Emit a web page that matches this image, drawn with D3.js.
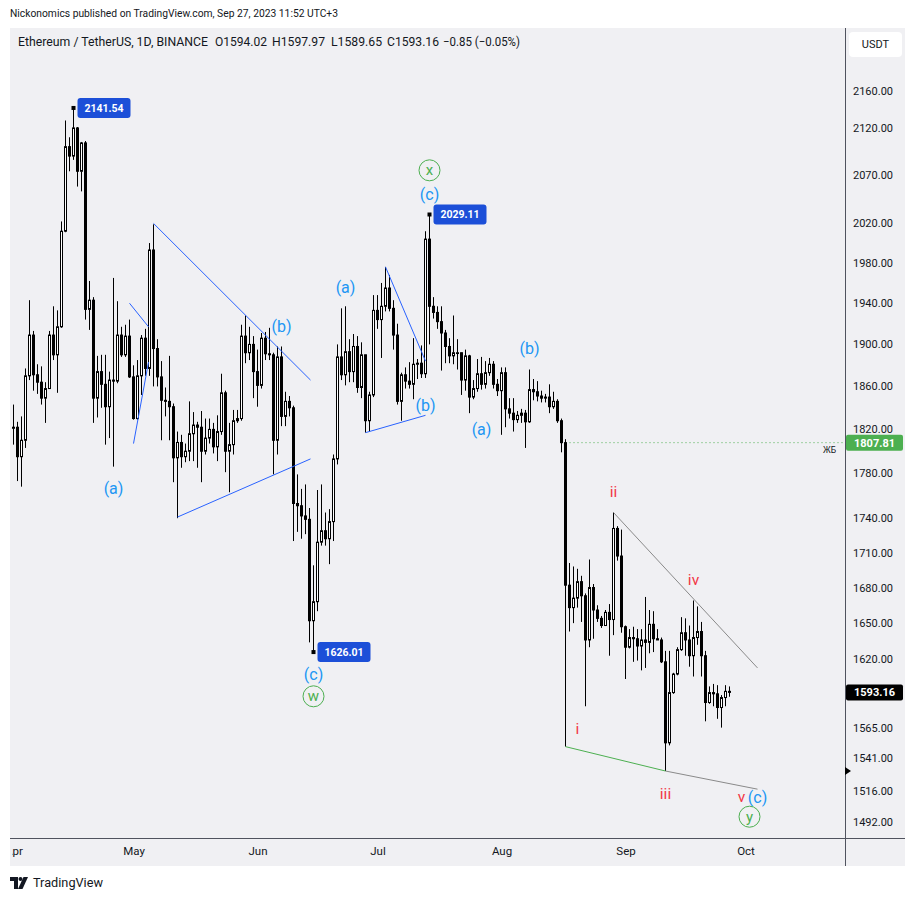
<!DOCTYPE html>
<html><head><meta charset="utf-8">
<script src="https://cdn.jsdelivr.net/npm/d3@7"></script>
<style>
body{margin:0;background:#fff;}
svg{display:block;font-family:Roboto,"Noto Sans",sans-serif;}
</style></head><body>
<svg id="c" width="916" height="900"></svg>
<script>
// ---------------- DATA ----------------
const startDate = "2023-04-01"; // first daily candle, one candle per day
const open = [1821,1822,1795,1810,1870,1909,1871,1864,1849,1858,
1909,1890,1917,2012,2100,2090,2120,2074,2104,1934,
1943,1849,1874,1862,1841,1866,1865,1909,1890,1908,
1869,1830,1870,1906,1877,1993,1896,1869,1847,1846,
1841,1794,1808,1795,1800,1816,1824,1822,1800,1812,
1820,1804,1818,1854,1800,1806,1828,1830,1908,1892,
1900,1874,1861,1906,1891,1890,1810,1888,1832,1846,
1840,1753,1751,1742,1739,1652,1668,1719,1729,1722,
1737,1793,1888,1871,1893,1874,1898,1859,1890,1828,
1852,1933,1924,1937,1955,1935,1909,1846,1871,1865,
1862,1881,1882,1872,2004,1937,1931,1922,1911,1898,
1889,1892,1892,1866,1889,1850,1858,1872,1862,1873,
1881,1862,1856,1873,1839,1835,1829,1833,1835,1827,
1857,1855,1851,1849,1850,1841,1846,1828,1807.81,1682,
1663,1671,1685,1673,1636,1680,1661,1654,1648,1659,
1653,1731,1707,1647,1630,1638,1637,1631,1636,1634,
1649,1637,1636,1618,1553,1593,1608,1628,1642,1636,
1623,1638,1643,1623,1585,1593,1592,1581,1589,1594.02];
const high = [1843,1827,1832,1877,1943,1913,1881,1879,1864,1913,
1937,1933,2022,2128,2110,2141.54,2121,2105,2106,1962,
1946,1889,1890,1890,1874,1965,1942,1917,1919,1924,
1880,1885,1909,1915,2000,2019,1905,1884,1859,1889,
1844,1818,1815,1807,1846,1836,1827,1837,1830,1830,
1826,1833,1872,1856,1826,1838,1838,1919,1928,1917,
1908,1895,1911,1912,1916,1892,1898,1898,1855,1851,
1842,1779,1766,1770,1749,1699,1765,1770,1745,1748,
1797,1900,1935,1937,1905,1910,1908,1902,1890,1855,
1948,1948,1960,1976,1968,1943,1920,1873,1878,1883,
1906,1886,1899,2012,2029.11,1946,1937,1937,1914,1906,
1928,1905,1892,1895,1890,1866,1886,1888,1884,1887,
1884,1867,1878,1878,1849,1849,1837,1839,1838,1876,
1867,1865,1856,1853,1862,1855,1848,1830,1811,1701,
1698,1696,1690,1675,1704,1683,1665,1656,1661,1666,
1745,1733,1730,1648,1645,1647,1645,1645,1672,1661,
1660,1645,1638,1627,1627,1609,1630,1655,1654,1648,
1669,1664,1651,1627,1598,1600,1599,1591,1599,1597.97];
const low = [1806,1773,1768,1803,1866,1856,1853,1843,1826,1858,
1885,1854,1916,2011,2074,2086,2058,2053,1924,1914,
1826,1831,1840,1806,1812,1786,1863,1888,1888,1868,
1829,1829,1852,1870,1870,1860,1860,1810,1832,1810,
1772,1740,1785,1790,1791,1791,1785,1772,1797,1807,
1798,1791,1815,1781,1763,1797,1826,1828,1882,1885,
1849,1841,1858,1885,1885,1779,1797,1823,1823,1832,
1720,1728,1722,1726,1634,1626.01,1660,1716,1716,1700,
1720,1788,1866,1861,1864,1864,1854,1849,1817,1818,
1850,1915,1887,1932,1932,1895,1843,1828,1858,1858,
1848,1867,1868,1868,1900,1925,1915,1875,1882,1882,
1881,1876,1852,1856,1835,1848,1855,1857,1858,1870,
1858,1851,1815,1822,1830,1818,1826,1826,1803,1826,
1847,1846,1845,1845,1835,1839,1826,1799,1550,1643,
1650,1663,1651,1582,1630,1637,1651,1646,1648,1623,
1640,1703,1642,1604,1629,1618,1619,1611,1613,1625,
1626,1636,1617,1531,1551,1592,1607,1627,1623,1614,
1606,1632,1606,1570,1584,1582,1572,1565,1582,1589.65];
const close = [1822,1795,1810,1870,1909,1871,1864,1849,1858,1909,
1890,1917,2012,2100,2090,2120,2074,2104,1934,1943,
1849,1874,1862,1841,1866,1865,1909,1890,1908,1869,
1830,1870,1906,1877,1993,1896,1869,1847,1846,1841,
1794,1808,1795,1800,1816,1824,1822,1800,1812,1820,
1804,1818,1854,1800,1806,1828,1830,1908,1892,1900,
1874,1861,1906,1891,1890,1810,1888,1832,1846,1840,
1753,1751,1742,1739,1652,1668,1719,1729,1722,1737,
1793,1888,1871,1893,1874,1898,1859,1890,1828,1852,
1933,1924,1937,1955,1935,1909,1846,1871,1865,1862,
1881,1882,1872,2004,1937,1931,1922,1911,1898,1889,
1892,1892,1866,1889,1850,1858,1872,1862,1873,1881,
1862,1856,1873,1839,1835,1829,1833,1835,1827,1857,
1855,1851,1849,1850,1841,1846,1828,1807.81,1682,1663,
1671,1685,1673,1636,1680,1661,1654,1648,1659,1653,
1731,1707,1647,1630,1638,1637,1631,1636,1634,1649,
1637,1636,1618,1553,1593,1608,1628,1642,1636,1623,
1638,1643,1623,1585,1593,1592,1581,1589,1594,1593.16];

const priceTicks = [2160,2120,2070,2020,1980,1940,1900,1860,1820,1780,1740,1710,1680,1650,1620,1565,1541,1516,1492];
const monthTicks = ["2023-04-01","2023-05-01","2023-06-01","2023-07-01","2023-08-01","2023-09-01","2023-10-01"];
const monthLabels = ["Apr","May","Jun","Jul","Aug","Sep","Oct"];
const changeAbs = -0.85, changePct = -0.05;
const hLine = {from:"2023-08-17", price:1807.81, tag:"ЖБ"};

// wave labels: [text, date, price]
const blueLabels = [["(a)","2023-04-26",1766],["(b)","2023-06-07",1917],["(c)","2023-06-15",1608],
  ["(a)","2023-06-23",1956],["(b)","2023-07-13",1842],["(c)","2023-07-14",2050],
  ["(a)","2023-07-27",1820],["(b)","2023-08-08",1896],["(c)","2023-10-04",1511]];
const redLabels = [["i","2023-08-20",1564],["ii","2023-08-29",1764],["iii","2023-09-11",1514],
  ["iv","2023-09-18",1687],["v","2023-09-30",1511]];
const circleLabels = [["w","2023-06-15",1590],["x","2023-07-14",2075],["y","2023-10-02",1496]];
// trend lines: [[date,price],[date,price]]
const blueLines = [
  [["2023-04-30",1940],["2023-05-04T18:00:00Z",1917]],
  [["2023-05-01",1807],["2023-05-04T18:00:00Z",1883]],
  [["2023-05-06",2020],["2023-06-14T06:00:00Z",1866]],
  [["2023-05-12",1741],["2023-06-14T06:00:00Z",1793]],
  [["2023-07-03",1976],["2023-07-13",1884]],
  [["2023-06-28",1817],["2023-07-13",1833]]];
const greyLines = [
  [["2023-08-29",1745],["2023-10-04",1613]],
  [["2023-09-11",1531],["2023-10-04",1517]]];
const greenLines = [[["2023-08-17",1550],["2023-09-11",1531]]];
// price callouts: candle index + field
const callouts = [[15,"high"],[104,"high"],[75,"low"]];
const axisMarker = 1531;

// ---------------- CHART ----------------
const svg = d3.select("#c");
const L=10, R=845, T=28, B=838;
const day0 = new Date(startDate);
const dates = close.map((_,i)=>d3.utcDay.offset(day0,i));
const x = d3.scaleUtc().domain([new Date(monthTicks[0]), new Date(monthTicks[6])]).range([13.5,745.5]);
const y = d3.scaleLog().domain([2160,1492]).range([91,822]);
const D = s => new Date(s);

svg.append("rect").attr("x",0).attr("y",0).attr("width",916).attr("height",900).attr("fill","#fff");
svg.append("rect").attr("x",L).attr("y",T).attr("width",905-L).attr("height",866-T).attr("fill","#f0f0f3");

const defs = svg.append("defs");
defs.append("clipPath").attr("id","pc").append("rect").attr("x",L).attr("y",T).attr("width",R-L).attr("height",B-T);
defs.append("clipPath").attr("id","xc").append("rect").attr("x",L+2).attr("y",B).attr("width",R-L-2).attr("height",30);

const g = svg.append("g").attr("clip-path","url(#pc)");

// horizontal dotted level
g.append("line").attr("x1",x(D(hLine.from))).attr("x2",R).attr("y1",y(hLine.price)).attr("y2",y(hLine.price))
  .attr("stroke","#4caf50").attr("stroke-width",1).attr("stroke-dasharray","1,3");
g.append("text").attr("x",836).attr("y",y(hLine.price)+10).attr("text-anchor","end").attr("font-size",8.5)
  .attr("fill","#131722").text(hLine.tag);

// candles
const cg = g.append("g");
dates.forEach((d,i)=>{
  const cx = x(d);
  cg.append("line").attr("x1",cx).attr("x2",cx).attr("y1",y(high[i])).attr("y2",y(low[i]))
    .attr("stroke","#000").attr("stroke-width",1);
  const top = y(Math.max(open[i],close[i])), bot = y(Math.min(open[i],close[i]));
  cg.append("rect").attr("x",cx-1).attr("width",2).attr("y",top).attr("height",Math.max(bot-top,0.8))
    .attr("fill", close[i]>=open[i] ? "#fff" : "#000").attr("stroke","#000").attr("stroke-width",1);
});

// trend lines
const drawLines = (arr,color) => arr.forEach(l=>{
  g.append("line").attr("x1",x(D(l[0][0]))).attr("y1",y(l[0][1])).attr("x2",x(D(l[1][0]))).attr("y2",y(l[1][1]))
   .attr("stroke",color).attr("stroke-width",1);
});
drawLines(blueLines,"#2962ff");
drawLines(greyLines,"#8a8a8a");
drawLines(greenLines,"#4caf50");

// labels
blueLabels.forEach(l=>g.append("text").attr("x",x(D(l[1]))).attr("y",y(l[2])).attr("dy","0.35em")
  .attr("text-anchor","middle").attr("font-size",16).attr("fill","#2196f3").text(l[0]));
redLabels.forEach(l=>g.append("text").attr("x",x(D(l[1]))).attr("y",y(l[2])).attr("dy","0.35em")
  .attr("text-anchor","middle").attr("font-size",15.5).attr("fill","#f23645").text(l[0]));
circleLabels.forEach(l=>{
  const cx=x(D(l[1])), cy=y(l[2]);
  g.append("circle").attr("cx",cx).attr("cy",cy).attr("r",10.5).attr("fill","none").attr("stroke","#4caf50").attr("stroke-width",1);
  g.append("text").attr("x",cx).attr("y",cy).attr("dy","0.33em").attr("text-anchor","middle")
   .attr("font-size",15).attr("fill","#4caf50").text(l[0]);
});

// callouts
callouts.forEach(([i,f])=>{
  const p = f==="high"?high[i]:low[i];
  const cx = x(dates[i]), cy = y(p);
  g.append("rect").attr("x",cx-2).attr("y",cy-2).attr("width",4).attr("height",4).attr("fill","#000");
  g.append("rect").attr("x",cx+4).attr("y",cy-10).attr("width",53).attr("height",20).attr("rx",3).attr("fill","#1c4fd8");
  g.append("text").attr("x",cx+30.5).attr("y",cy).attr("dy","0.35em").attr("text-anchor","middle")
   .attr("font-size",10.5).attr("font-weight","bold").attr("fill","#fff").text(p.toFixed(2));
});

// axes frame lines
svg.append("line").attr("x1",L).attr("x2",905).attr("y1",B+0.5).attr("y2",B+0.5).attr("stroke","#50535e");
svg.append("line").attr("x1",R+0.5).attr("x2",R+0.5).attr("y1",T).attr("y2",866).attr("stroke","#50535e");

// right price axis
const ya = svg.append("g").attr("transform",`translate(${R},0)`)
  .call(d3.axisRight(y).tickValues(priceTicks).tickFormat(d3.format(".2f")).tickSize(0).tickPadding(8));
ya.select(".domain").remove();
ya.selectAll("text").attr("font-size",11).attr("fill","#131722").attr("font-family","Roboto,sans-serif");

// bottom time axis (outer group clipped in page coordinates)
const xwrap = svg.append("g").attr("clip-path","url(#xc)");
const xa = xwrap.append("g").attr("transform",`translate(0,${B})`)
  .call(d3.axisBottom(x).tickValues(monthTicks.map(D)).tickFormat((d,i)=>monthLabels[i]).tickSize(0).tickPadding(9));
xa.select(".domain").remove();
xa.selectAll("text").attr("font-size",11.5).attr("fill","#131722").attr("font-family","Roboto,sans-serif");

// axis tags
const tag = (p,bg,fg) => {
  svg.append("rect").attr("x",R+1).attr("y",y(p)-8).attr("width",57).attr("height",16).attr("rx",2).attr("fill",bg);
  svg.append("text").attr("x",R+29.5).attr("y",y(p)).attr("dy","0.35em").attr("text-anchor","middle")
    .attr("font-size",11).attr("font-weight","bold").attr("fill",fg).text(p.toFixed(2));
};
tag(hLine.price,"#4caf50","#fff");
tag(close[close.length-1],"#000","#fff");
svg.append("path").attr("d",`M${R},${y(axisMarker)-4} L${R+6},${y(axisMarker)} L${R},${y(axisMarker)+4} Z`).attr("fill","#000");

// USDT box
svg.append("rect").attr("x",849).attr("y",32).attr("width",53).attr("height",25).attr("rx",4).attr("fill","#fff");
svg.append("text").attr("x",875.5).attr("y",44.5).attr("dy","0.35em").attr("text-anchor","middle").attr("font-size",11).attr("fill","#131722").text("USDT");

// header
svg.append("text").attr("x",10).attr("y",17).attr("font-size",11).attr("fill","#131722")
  .attr("textLength",328).attr("lengthAdjust","spacingAndGlyphs")
  .text("Nickonomics published on TradingView.com, Sep 27, 2023 11:52 UTC+3");
const n = close.length-1;
const leg = [["Ethereum / TetherUS, 1D, BINANCE",18,190],
  ["O"+open[n].toFixed(2),215,52],["H"+high[n].toFixed(2),272,53],["L"+low[n].toFixed(2),331,51],
  ["C"+close[n].toFixed(2),387,52],["−"+Math.abs(changeAbs).toFixed(2)+" (−"+Math.abs(changePct).toFixed(2)+"%)",443,77]];
leg.forEach(([t,lx,w])=>svg.append("text").attr("x",lx).attr("y",45.5).attr("font-size",12).attr("fill","#131722")
  .attr("textLength",w).attr("lengthAdjust","spacingAndGlyphs").text(t));

// TradingView logo
const lg = svg.append("g").attr("fill","#131722");
lg.append("path").attr("d","M10,877 h8 v12 h-4 v-8 h-4 z");
lg.append("circle").attr("cx",20.5).attr("cy",879).attr("r",2);
lg.append("path").attr("d","M23.5,877 h4.5 l-5.5,12 h-4.5 z");
svg.append("text").attr("x",33).attr("y",887).attr("font-size",12.5).attr("fill","#131722")
  .attr("textLength",70).attr("lengthAdjust","spacingAndGlyphs").text("TradingView");
</script>
</body></html>
